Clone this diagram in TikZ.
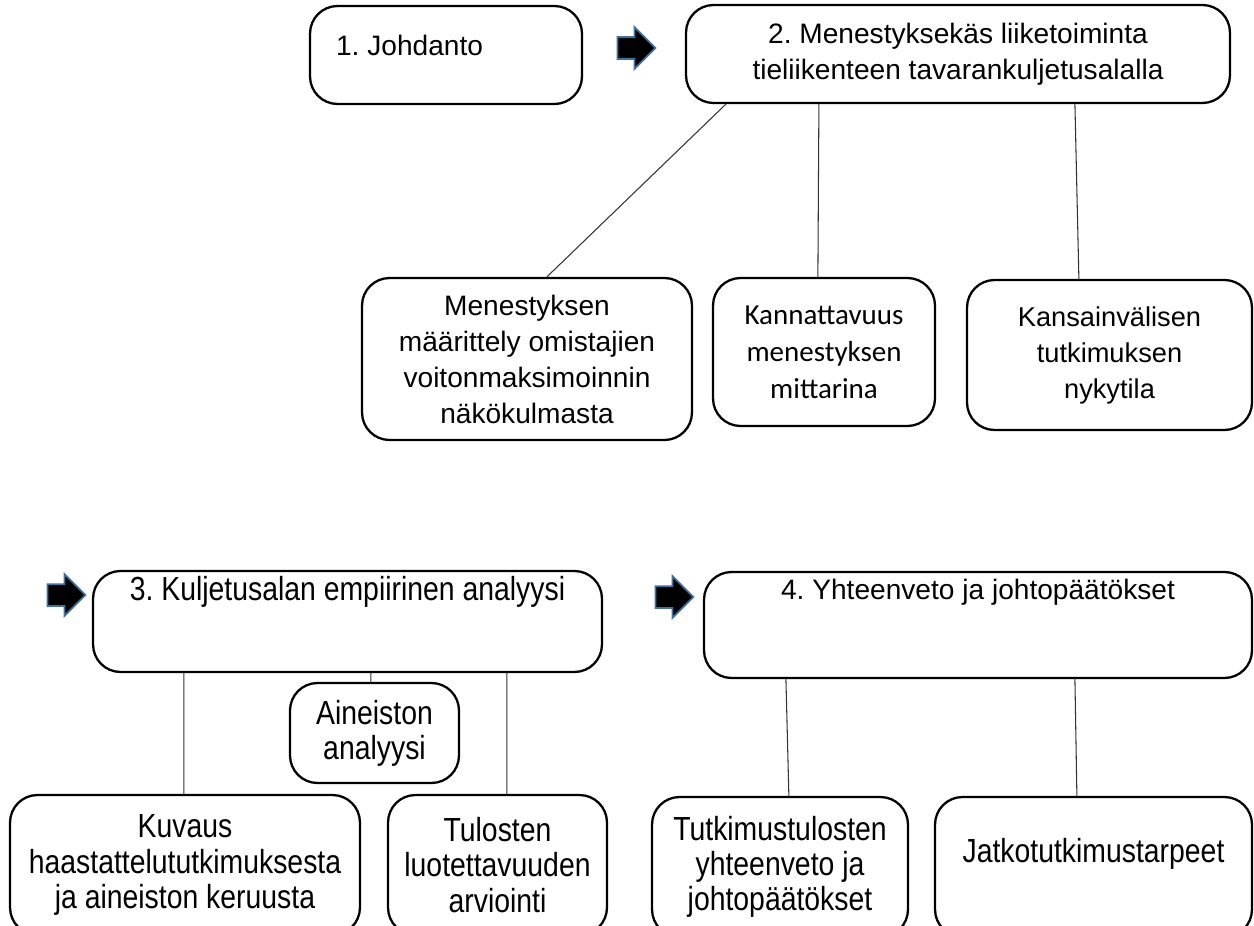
\documentclass[tikz,border=0pt]{standalone}
\usepackage{fontspec}
\setmainfont{Liberation Sans}
\newfontfamily\kapeafont[FakeStretch=0.85]{Liberation Sans}
\newfontfamily\calibrifont{Carlito}
\usetikzlibrary{calc,shapes.arrows}
\definecolor{nuolireuna}{HTML}{41719C}
\frenchspacing
\tikzset{
 kaavio laatikko/.style={draw=black,line width=1.3pt,rounded corners=.55cm,inner sep=2pt,
                         align=center,font=\fontsize{16}{20.5}\selectfont},
 kaavio teksti/.style={font=\fontsize{16}{20.5}\selectfont},
 kaavio kapea/.style={font=\kapeafont\fontsize{19}{20}\selectfont},
 kaavio viiva/.style={line width=.6pt,draw=black!80},
 kaavio nuoli/.style={single arrow,fill=black,draw=nuolireuna,line width=1pt,
                      inner xsep=0pt,inner ysep=.2cm,minimum height=.76cm,
                      single arrow head extend=.2cm,single arrow tip angle=90}
}

\begin{document}
\begin{tikzpicture}[x=.02cm,y=-.02cm]
 \useasboundingbox (0,0) rectangle (1254,926);
 \clip (0,0) rectangle (1254,926);
 % ylarivi
 \node[kaavio laatikko,minimum width=5.44cm,minimum height=1.96cm,
   label={[anchor=west,xshift=.42cm,yshift=.2cm,kaavio teksti]west:1. Johdanto}]
   (johdanto) at (446,55) {};
 \node[kaavio nuoli] (nuoli1) at (631,48) {};
 \node[kaavio laatikko,minimum width=10.88cm,minimum height=1.96cm]
   (liike) at (958,54) {2. Menestyksekäs liiketoiminta\\tieliikenteen tavarankuljetusalalla};
 \node[kaavio laatikko,minimum width=6.6cm,minimum height=3.24cm]
   (maar) at (527,359) {Menestyksen\\määrittely omistajien\\voitonmaksimoinnin\\näkökulmasta};
 \node[kaavio laatikko,minimum width=4.44cm,minimum height=2.96cm,
   font=\calibrifont\fontsize{16.5}{21}\selectfont]
   (kann) at (824,352) {Kannattavuus\\menestyksen\\mittarina};
 \node[kaavio laatikko,minimum width=5.7cm,minimum height=3cm,
   font=\fontsize{15.5}{20.5}\selectfont]
   (kv) at (1109.5,355) {Kansainvälisen\\tutkimuksen\\nykytila};
 % alarivi
 \node[kaavio nuoli] (nuoli2) at (61,595) {};
 \node[kaavio laatikko,minimum width=10.18cm,minimum height=2.02cm,
   label={[anchor=north,kaavio kapea]north:3. Kuljetusalan empiirinen analyysi}]
   (empiria) at (347.5,621.5) {};
 \node[kaavio nuoli] (nuoli3) at (669,597) {};
 \node[kaavio laatikko,minimum width=10.96cm,minimum height=2.12cm,
   label={[anchor=north,yshift=-1pt,kaavio teksti]north:4. Yhteenveto ja johtopäätökset}]
   (yht) at (978,625) {};
 \node[kaavio laatikko,kaavio kapea,minimum width=3.38cm,minimum height=2cm]
   (aineisto) at (374.5,733) {Aineiston\\analyysi};
 \node[kaavio laatikko,kaavio kapea,minimum width=7cm,minimum height=2.8cm]
   (kuvaus) at (185,865) {Kuvaus\\haastattelututkimuksesta\\ja aineiston keruusta};
 \node[kaavio laatikko,kaavio kapea,minimum width=4.38cm,minimum height=2.8cm]
   (tulos) at (497.5,865) {Tulosten\\luotettavuuden\\arviointi};
 \node[kaavio laatikko,kaavio kapea,minimum width=5.12cm,minimum height=2.8cm]
   (tiivis) at (780,867) {Tutkimustulosten\\yhteenveto ja\\johtopäätökset};
 \node[kaavio laatikko,minimum width=6.34cm,minimum height=2.8cm,
   label={[anchor=center,yshift=-1.16cm,kaavio kapea]north:Jatkotutkimustarpeet}]
   (jatko) at (1093.5,867) {};
 % viivat
 \foreach \y/\dy/\a/\da in {liike/41/maar/186,liike/134/kann/106,liike/390/kv/113,
   empiria/92/kuvaus/175,empiria/279/aineisto/82,empiria/415/tulos/120,
   yht/83/tiivis/138,yht/372/jatko/143}{
   \draw[kaavio viiva] ($(\y.south west)+(\dy,0)$) -- ($(\a.north west)+(\da,0)$);
 }
\end{tikzpicture}
\end{document}
